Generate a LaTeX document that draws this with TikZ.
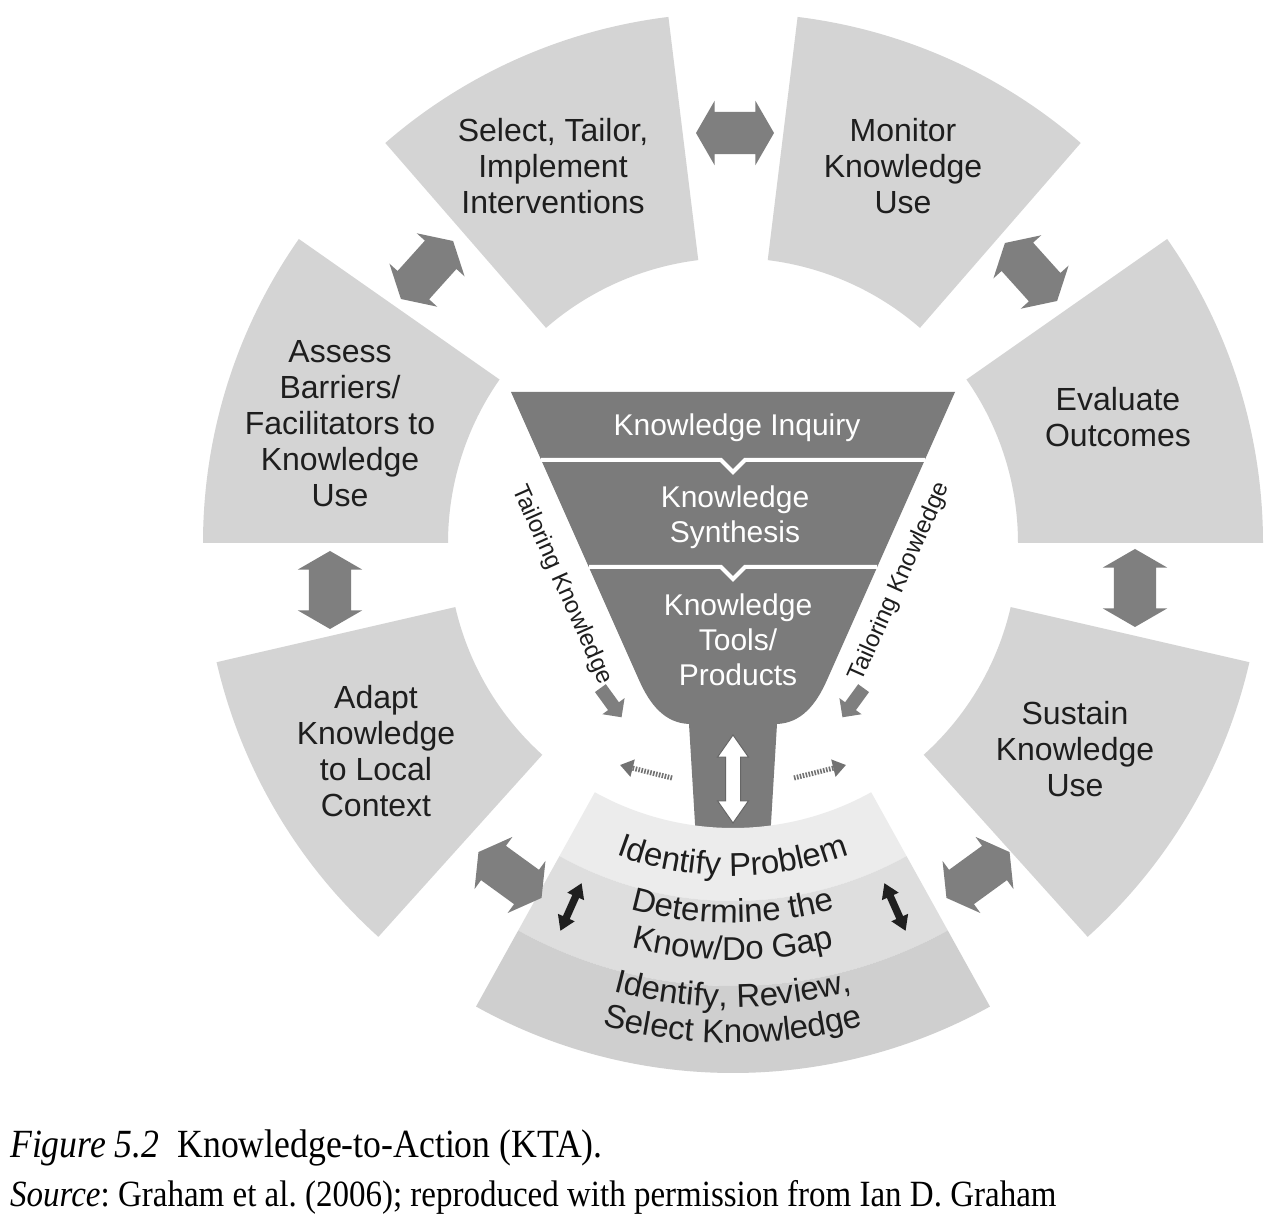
\documentclass[tikz,border=0pt]{standalone}
\usepackage{fontspec}
\setmainfont{Liberation Sans}
\newfontfamily\capfont[FakeStretch=0.892]{Liberation Serif}
\usetikzlibrary{shapes.arrows,decorations.text,arrows.meta}
\definecolor{seg}{HTML}{D4D4D4}
\definecolor{bandA}{HTML}{ECECEC}
\definecolor{bandB}{HTML}{DEDEDE}
\definecolor{bandC}{HTML}{CFCFCF}
\definecolor{arr}{HTML}{7F7F7F}
\definecolor{fun}{HTML}{7B7B7B}
\definecolor{ink}{HTML}{1E1E1E}
\newcommand\annseg[5]{\fill[#5] ([shift={(733,680)}]#1:#3) arc[start angle=#1, end angle=#2, radius=#3] -- ([shift={(733,680)}]#2:#4) arc[start angle=#2, end angle=#1, radius=#4] -- cycle;}
\newcommand\arctext[3]{\path[decorate, decoration={text along path, text={|\fontsize{33}{33}\selectfont|#3}, text align=center, text color=ink}] ([shift={(733,680)}]#1:#2) arc[start angle=#1, end angle=540-#1, radius=#2];}
\tikzset{
  segtext/.style={align=center, font=\fontsize{32}{36}\selectfont, text=ink, inner sep=0pt},
  funtext/.style={align=center, font=\fontsize{30}{35}\selectfont, text=white, inner sep=0pt},
  tailtext/.style={font=\fontsize{24}{24}\selectfont, text=ink, inner sep=0pt},
  blockarrow/.style={double arrow, fill=arr, draw=none, inner xsep=0pt, inner ysep=21pt, double arrow head extend=11pt, double arrow tip angle=120, minimum height=78pt},
  neckarrow/.style={double arrow, fill=white, draw=black!60, line width=1pt, inner xsep=0pt, inner ysep=7pt, double arrow head extend=8pt, double arrow tip angle=70, minimum height=88pt},
  smallarrow/.style={double arrow, fill=black!88, draw=none, inner xsep=0pt, inner ysep=3.5pt, double arrow head extend=5.5pt, double arrow tip angle=65, minimum height=52pt},
  tailarrow/.style={single arrow, fill=arr, draw=none, inner xsep=0pt, inner ysep=6.5pt, single arrow head extend=7pt, single arrow tip angle=90, minimum height=36pt},
  dotarrow/.style={draw=arr!90!black, line width=5pt, dash pattern=on 1.6pt off 1.4pt, -{Triangle[width=17pt,length=13pt]}},
  capstyle/.style={anchor=base west, inner sep=0pt, font=\capfont\fontsize{37}{37}\selectfont, text=black},
}
\begin{document}
\frenchspacing
\begin{tikzpicture}[x=1pt,y=1pt]
\useasboundingbox (0,0) rectangle (1275,1223);
\fill[white] (0,0) rectangle (1275,1223);
% ring segments
\annseg{97}{131}{285}{530}{seg}
\annseg{49}{83}{285}{530}{seg}
\annseg{0}{35}{285}{530}{seg}
\annseg{-48}{-13}{285}{530}{seg}
\annseg{193}{228}{285}{530}{seg}
\annseg{145}{180}{285}{530}{seg}
% funnel
\fill[fun] (511,831) -- (639,543) .. controls (650,518) and (665,500) .. (689,499)
  -- (696,383) -- (770,383) -- (777,499) .. controls (801,500) and (816,518) .. (827,543)
  -- (955,831) -- cycle;
\draw[white, line width=4pt] (541,763) -- (721,763) -- (733,751) -- (745,763) -- (925,763);
\draw[white, line width=4pt] (589,656) -- (721,656) -- (733,644) -- (745,656) -- (877,656);
% bottom segment bands
\annseg{241}{299}{285}{358}{bandA}
\annseg{241}{299}{358}{443}{bandB}
\annseg{241}{299}{443}{530}{bandC}
% segment texts
\node[segtext] (select) at (553,1057) {Select, Tailor,\\Implement\\Interventions};
\node[segtext] (monitor) at (903,1057) {Monitor\\Knowledge\\Use};
\node[segtext] (evaluate) at (1118,806) {Evaluate\\Outcomes};
\node[segtext] (sustain) at (1075,474) {Sustain\\Knowledge\\Use};
\node[segtext] (adapt) at (376,472) {Adapt\\Knowledge\\to Local\\Context};
\node[segtext] (assess) at (340,799) {Assess\\Barriers/\\Facilitators to\\Knowledge\\Use};
% funnel texts
\node[funtext] (inquiry) at (737,795) {Knowledge Inquiry};
\node[funtext] (synthesis) at (735,706) {Knowledge\\Synthesis};
\node[funtext] (tools) at (738,583) {Knowledge\\Tools/\\Products};
% tailoring
\node[tailtext, rotate=-66] (tailL) at (562,638) {Tailoring Knowledge};
\node[tailtext, rotate=66] (tailR) at (900,641) {Tailoring Knowledge};
\node[tailarrow, rotate=-54] (taL) at (609,523) {};
\node[tailarrow, rotate=-126] (taR) at (855,523) {};
% dotted arrows
\coordinate (dl1) at (672,445); \coordinate (dl2) at (620,458);
\coordinate (dr1) at (794,445); \coordinate (dr2) at (846,458);
\draw[dotarrow] (dl1) -- (dl2);
\draw[dotarrow] (dr1) -- (dr2);
% neck arrow
\node[neckarrow, rotate=90] (neck) at (733,444) {};
% bottom texts
\arctext{235}{333}{Identify Problem}
\arctext{235}{380}{Determine the}
\arctext{235}{417}{Know/Do Gap}
\arctext{235}{464}{Identify, Review,}
\arctext{235}{500}{Select Knowledge}
% small black arrows
\node[smallarrow, rotate=66] (bkL) at (571,316) {};
\node[smallarrow, rotate=-66] (bkR) at (895,316) {};
% block arrows between segments
\node[blockarrow, rotate=0] (aSM) at (735,1090) {};
\node[blockarrow, rotate=-48] (aME) at (1031,951) {};
\node[blockarrow, rotate=90] (aES) at (1135,635) {};
\node[blockarrow, rotate=36] (aSB) at (978,348) {};
\node[blockarrow, rotate=-36] (aBA) at (510,348) {};
\node[blockarrow, rotate=90] (aAA) at (330,633) {};
\node[blockarrow, rotate=48] (aAS) at (427,953) {};
% caption
\node[capstyle, font=\capfont\fontsize{40}{40}\selectfont] (cap1) at (10,65) {\textit{Figure 5.2}\hspace{0.45em}Knowledge-to-Action (KTA).};
\node[capstyle] (cap2) at (10,16) {\textit{Source}: Graham et al. (2006); reproduced with permission from Ian D. Graham};
\end{tikzpicture}
\end{document}
